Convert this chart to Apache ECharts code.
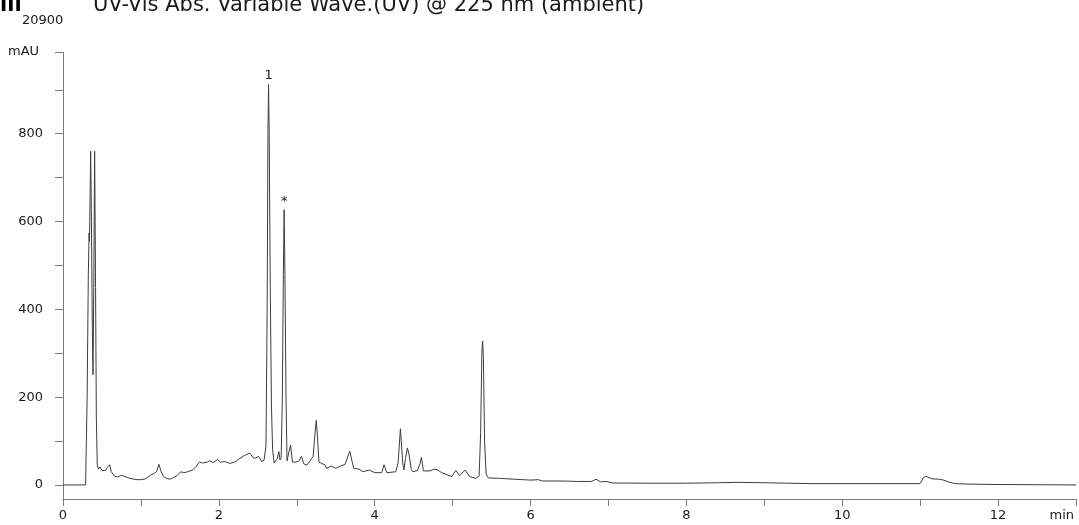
<!DOCTYPE html>
<html>
<head>
<meta charset="utf-8">
<script src="https://cdn.jsdelivr.net/npm/echarts@6/dist/echarts.min.js"></script>
<style>
  html, body { margin: 0; padding: 0; background: #fff; }
  #chart { width: 1079px; height: 525px; }
</style>
</head>
<body>
<div id="chart"></div>
<script>
// trace: retention time (min) and signal (mAU)
const times = [
  0.00, 0.29, 0.295, 0.31, 0.325, 0.335, 0.34, 0.355, 0.365, 0.375, 0.385, 0.395, 0.406, 0.418, 0.428, 0.44,
  0.455, 0.475, 0.50, 0.52, 0.545, 0.57, 0.60, 0.62, 0.66, 0.70, 0.75, 0.77, 0.81, 0.86, 0.95, 1.00,
  1.06, 1.12, 1.17, 1.20, 1.23, 1.26, 1.29, 1.33, 1.37, 1.42, 1.47, 1.51, 1.55, 1.60, 1.66, 1.70,
  1.75, 1.79, 1.85, 1.88, 1.93, 1.98, 2.02, 2.08, 2.14, 2.20, 2.25, 2.27, 2.32, 2.36, 2.40, 2.44,
  2.47, 2.51, 2.55, 2.58, 2.605, 2.62, 2.63, 2.638, 2.646, 2.66, 2.675, 2.69, 2.71, 2.73, 2.75, 2.77,
  2.785, 2.80, 2.815, 2.828, 2.838, 2.848, 2.862, 2.875, 2.895, 2.92, 2.945, 2.99, 3.03, 3.06, 3.09, 3.13,
  3.18, 3.21, 3.235, 3.25, 3.265, 3.285, 3.32, 3.36, 3.38, 3.44, 3.50, 3.56, 3.62, 3.68, 3.73, 3.80,
  3.85, 3.93, 4.00, 4.09, 4.12, 4.155, 4.27, 4.30, 4.33, 4.36, 4.375, 4.395, 4.42, 4.44, 4.47, 4.49,
  4.55, 4.585, 4.60, 4.625, 4.65, 4.71, 4.76, 4.80, 4.86, 4.93, 4.99, 5.04, 5.09, 5.16, 5.22, 5.30,
  5.34, 5.36, 5.375, 5.385, 5.395, 5.41, 5.43, 5.46, 5.60, 5.80, 6.00, 6.10, 6.15, 6.40, 6.60, 6.78,
  6.84, 6.90, 6.97, 7.05, 7.50, 8.00, 8.40, 8.65, 9.00, 9.30, 9.60, 10.00, 10.60, 11.00, 11.04, 11.07,
  11.15, 11.25, 11.30, 11.38, 11.45, 11.60, 12.00, 13.00
];
const signal = [
  0, 0, 2, 200, 480, 574, 555, 760, 600, 380, 251, 450, 760, 450, 150, 45,
  36, 41, 33, 30, 33, 40, 46, 30, 20, 18, 22, 23, 18, 15, 12, 12,
  14, 22, 26, 30, 47, 30, 19, 15, 13, 17, 22, 30, 28, 30, 34, 40,
  52, 50, 52, 55, 51, 58, 52, 53, 49, 52, 58, 57, 66, 70, 72, 62,
  61, 65, 53, 56, 90, 400, 800, 912, 800, 450, 180, 80, 50, 52, 60, 76,
  57, 62, 200, 480, 627, 480, 200, 55, 52, 91, 52, 52, 55, 65, 48, 45,
  57, 65, 120, 147, 110, 52, 49, 46, 38, 43, 38, 43, 47, 77, 38, 36,
  30, 34, 28, 28, 46, 28, 30, 50, 128, 50, 34, 60, 84, 70, 35, 30,
  33, 50, 63, 32, 28, 32, 36, 35, 28, 23, 19, 33, 21, 34, 19, 15,
  20, 120, 300, 328, 290, 100, 25, 16, 15, 13, 11, 12, 9, 9, 8, 8,
  13, 7, 8, 4.5, 4, 4, 5, 6, 5, 4, 3, 3, 3, 3, 16, 20,
  14, 13, 11, 6, 3, 2, 1, 0
];

// peak annotations
const peakTimes = [2.638, 2.838];
const peakValues = [912, 627];
const peakNames = ['1', '*'];

const xTicks = [0, 2, 4, 6, 8, 10, 12];
const yLabelValues = [0, 200, 400, 600, 800];
const yTickValues = [0, 100, 200, 300, 400, 500, 600, 700, 800, 900, 985];

const titleText = 'UV-Vis Abs. Variable Wave.(UV) @ 225 nm (ambient)';
const overflowText = '20900';

const axisColor = '#7a7a7a';
const font = 'DejaVu Sans';

const chart = echarts.init(document.getElementById('chart'));

chart.setOption({
  animation: false,
  grid: { left: 63, right: 2, top: 52.5, bottom: 26 },
  xAxis: {
    type: 'value', min: 0, max: 13, interval: 1,
    axisLine: { onZero: false, lineStyle: { color: axisColor, width: 1 } },
    axisTick: { length: 7, lineStyle: { color: axisColor } },
    splitLine: { show: false },
    axisLabel: {
      margin: 10, color: '#1a1a1a', fontFamily: font, fontSize: 13,
      formatter: v => xTicks.includes(v) ? String(v) : ''
    }
  },
  yAxis: {
    type: 'value', min: -32, max: 985,
    axisLine: { show: true, lineStyle: { color: axisColor, width: 1 } },
    axisTick: { show: true, length: 8, customValues: yTickValues, lineStyle: { color: axisColor } },
    splitLine: { show: false },
    axisLabel: {
      margin: 20, color: '#1a1a1a', fontFamily: font, fontSize: 13,
      customValues: yLabelValues
    }
  },
  series: [{
    type: 'line',
    data: times.map((t, i) => [t, signal[i]]),
    showSymbol: false,
    symbol: 'none',
    lineStyle: { color: '#3c3c3c', width: 1 },
    markPoint: {
      symbol: 'circle', symbolSize: 0,
      label: {
        show: true, position: 'top', distance: 2,
        color: '#1a1a1a', fontFamily: font, fontSize: 13,
        formatter: p => p.name
      },
      data: peakTimes.map((t, i) => ({ name: peakNames[i], coord: [t, peakValues[i]] }))
    }
  }],
  graphic: [
    { type: 'text', left: 93, top: -5, style: { text: titleText, font: '21px "DejaVu Sans"', fill: '#1a1a1a' } },
    { type: 'text', left: 0, top: -5, style: { text: 'ıll', font: 'bold 21px "DejaVu Sans"', fill: '#000' } },
    { type: 'text', left: 22, top: 14, style: { text: overflowText, font: '13px "DejaVu Sans"', fill: '#1a1a1a' } },
    { type: 'text', left: 8, top: 45, style: { text: 'mAU', font: '13px "DejaVu Sans"', fill: '#1a1a1a' } },
    { type: 'text', right: 5, top: 509, style: { text: 'min', font: '13px "DejaVu Sans"', fill: '#1a1a1a' } }
  ]
});
</script>
</body>
</html>
